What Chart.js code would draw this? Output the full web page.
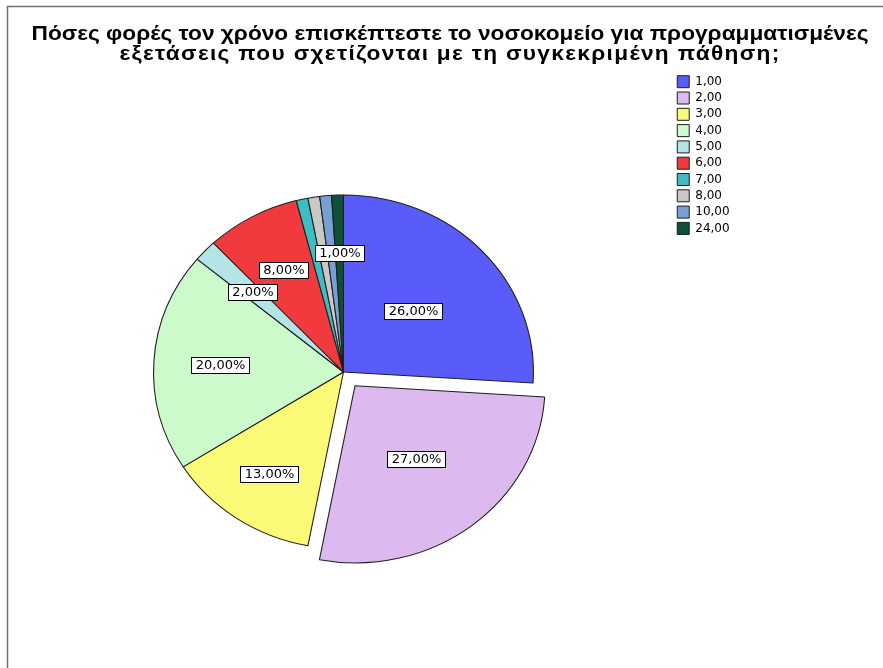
<!DOCTYPE html>
<html>
<head>
<meta charset="utf-8">
<script src="https://cdn.jsdelivr.net/npm/chart.js@4.4.1/dist/chart.umd.min.js"></script>
<style>
  html, body { margin: 0; padding: 0; background: #fff; overflow: hidden; }
  #wrap { position: relative; width: 883px; height: 680px; }
</style>
</head>
<body>
<div id="wrap"><canvas id="pie" width="883" height="680"></canvas></div>
<script>
const titleLines = [
  'Πόσες φορές τον χρόνο επισκέπτεστε το νοσοκομείο για προγραμματισμένες',
  'εξετάσεις που σχετίζονται με τη συγκεκριμένη πάθηση;'
]
const categories = ['1,00', '2,00', '3,00', '4,00', '5,00', '6,00', '7,00', '8,00', '10,00', '24,00']
const percents = [26, 27, 13, 20, 2, 8, 1, 1, 1, 1]

const sliceColors = [
  '#5a5cfa', '#dcbaf0', '#fafa78', '#cdfacb', '#b4e4e6',
  '#f03a3e', '#3cbec4', '#c8c8c8', '#78a0d4', '#0f5038'
]
// slice 2,00 is pulled out of the pie
const explode = [0, 70, 0, 0, 0, 0, 0, 0, 0, 0]
// value tags: distance from centre as fraction of radius, null = no tag
const tagRadius = [0.5, 0.52, 0.7, 0.65, 0.66, 0.66, null, null, null, 0.67]
const squash = 1.073 // pie is a little wider than tall

const fmtPct = v => {
  const total = percents.reduce((s, x) => s + x, 0)
  return (v / total * 100).toFixed(2).replace('.', ',') + '%'
}

// wide title: first line sets the stretch, second line gets a little tracking
const titleWidths = [837, 660]

const frameAndTitle = {
  id: 'frameAndTitle',
  beforeDraw(chart) {
    const { ctx, width, height } = chart
    ctx.save()
    ctx.fillStyle = '#fff'
    ctx.fillRect(0, 0, width, height)
    ctx.strokeStyle = '#707070'
    ctx.lineWidth = 1.5
    ctx.beginPath()
    ctx.moveTo(7.5, height)
    ctx.lineTo(7.5, 6.5)
    ctx.lineTo(width, 6.5)
    ctx.stroke()

    ctx.fillStyle = '#000'
    ctx.font = 'bold 19.5px "Liberation Sans", Arial, sans-serif'
    ctx.textAlign = 'left'
    ctx.textBaseline = 'alphabetic'
    const sx = titleWidths[0] / ctx.measureText(titleLines[0]).width
    titleLines.forEach((line, i) => {
      ctx.save()
      const natural = ctx.measureText(line).width
      const gap = (titleWidths[i] / sx - natural) / (line.length - 1)
      if (gap > 0.05) ctx.letterSpacing = gap.toFixed(2) + 'px'
      const w = ctx.measureText(line).width * sx
      ctx.translate(450 - w / 2, 40 + i * 20)
      ctx.scale(sx, 1)
      ctx.fillText(line, 0, 0)
      ctx.restore()
    })
    ctx.restore()
  }
}

const stretchPie = {
  id: 'stretchPie',
  beforeDatasetsDraw(chart) {
    const { ctx, chartArea } = chart
    const cx = (chartArea.left + chartArea.right) / 2
    ctx.save()
    ctx.translate(cx, 0)
    ctx.scale(squash, 1)
    ctx.translate(-cx, 0)
  },
  afterDatasetsDraw(chart) {
    const { ctx } = chart
    ctx.restore()

    const meta = chart.getDatasetMeta(0)
    ctx.save()
    ctx.font = '13px "DejaVu Sans", sans-serif'
    ctx.textAlign = 'center'
    ctx.textBaseline = 'middle'
    meta.data.forEach((arc, i) => {
      const f = tagRadius[i]
      if (f == null) return
      const a = (arc.startAngle + arc.endAngle) / 2
      const shift = (arc.options.offset || 0) / 4
      const r = shift + f * arc.outerRadius
      const x = arc.x + Math.cos(a) * r * squash
      const y = arc.y + Math.sin(a) * r
      const txt = fmtPct(percents[i])
      const w = Math.round(ctx.measureText(txt).width + 8)
      const h = 16
      const left = Math.round(x - w / 2) + 0.5
      const top = Math.round(y - h / 2) + 0.5
      ctx.fillStyle = '#fff'
      ctx.fillRect(left, top, w, h)
      ctx.strokeStyle = '#000'
      ctx.lineWidth = 1
      ctx.strokeRect(left, top, w, h)
      ctx.fillStyle = '#000'
      ctx.fillText(txt, left + w / 2, top + h / 2 + 0.5)
    })
    ctx.restore()
  }
}

new Chart(document.getElementById('pie'), {
  type: 'pie',
  data: {
    labels: categories,
    datasets: [{
      data: percents,
      backgroundColor: sliceColors,
      borderColor: '#1e1e1e',
      borderWidth: 1,
      offset: explode,
      clip: false,
    }]
  },
  options: {
    responsive: false,
    animation: false,
    events: [],
    radius: 177,
    layout: {
      padding: { left: 14, top: 71.4, right: 143.4, bottom: 7.4 }
    },
    plugins: {
      title: { display: false },
      tooltip: { enabled: false },
      legend: {
        position: 'right',
        align: 'start',
        labels: {
          color: '#000',
          font: { family: 'DejaVu Sans', size: 12 },
          boxWidth: 12,
          boxHeight: 12,
          padding: 4.3,
        }
      }
    }
  },
  plugins: [frameAndTitle, stretchPie]
})
</script>
</body>
</html>
